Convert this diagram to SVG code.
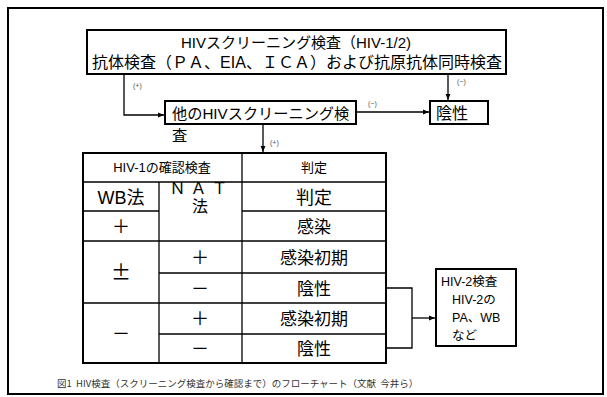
<svg xmlns="http://www.w3.org/2000/svg" width="607" height="397" viewBox="0 0 607 397">
<defs>
<marker id="ah" viewBox="0 0 10 10" refX="10" refY="5" markerWidth="6" markerHeight="6" orient="auto" markerUnits="userSpaceOnUse">
<path d="M0,1 L10,5 L0,9 z" fill="#000"/>
</marker>
<style>
text{font-family:"Liberation Sans","Noto Sans CJK JP",sans-serif;fill:#000}
.box{fill:#fff;stroke:#000;stroke-width:2}
.ln{fill:none;stroke:#000;stroke-width:1.3}
.con{fill:none;stroke:#000;stroke-width:1.3}
.sm{font-size:7px;fill:#555}
.c{text-anchor:middle}
.pm{font-family:"Noto Sans CJK JP",sans-serif;font-size:20px}
.cap{font-family:"Noto Sans CJK JP",serif;font-size:9.5px;fill:#333;white-space:pre}
</style>
</defs>
<rect x="0" y="0" width="607" height="397" fill="#fff"/>
<rect id="frame" x="8" y="8" width="595" height="386" fill="none" stroke="#000" stroke-width="2"/>

<g id="connectors">
<polyline class="con" points="124,74 124,115 164,115" marker-end="url(#ah)"/>
<line class="con" x1="448" y1="74" x2="448" y2="100" marker-end="url(#ah)"/>
<line class="con" x1="356" y1="112" x2="429" y2="112" marker-end="url(#ah)"/>
<line class="con" x1="263" y1="125" x2="263" y2="152" marker-end="url(#ah)"/>
<polyline class="con" points="386,288 412,288 412,348 386,348"/>
<line class="con" x1="412" y1="318" x2="435" y2="318" marker-end="url(#ah)"/>
<text class="sm" x="133" y="88">(+)</text>
<text class="sm" x="457" y="84">(−)</text>
<text class="sm" x="368" y="106">(−)</text>
<text class="sm" x="270" y="145">(+)</text>
</g>

<g id="screening">
<rect class="box" x="87" y="30" width="419" height="44"/>
<text class="c" x="296" y="48" font-size="15">HIVスクリーニング検査（HIV-1/2)</text>
<text class="c" x="297" y="68" font-size="16">抗体検査（ＰＡ、EIA、ＩＣＡ）および抗原抗体同時検査</text>
</g>

<g id="other">
<rect class="box" x="165" y="101" width="191" height="23"/>
<text x="172" y="119" font-size="15.2">他のHIVスクリーニング検</text>
<text x="172" y="141" font-size="15.2">査</text>
</g>

<g id="negative">
<rect class="box" x="430" y="101" width="58" height="23"/>
<text x="436" y="119" font-size="16">陰性</text>
</g>

<g id="table">
<rect x="83" y="153" width="303" height="210" fill="#fff" stroke="#000" stroke-width="2"/>
<line class="ln" x1="242" y1="153" x2="242" y2="363"/>
<line class="ln" x1="159" y1="182" x2="159" y2="363"/>
<line class="ln" x1="83" y1="182" x2="386" y2="182"/>
<line class="ln" x1="83" y1="211" x2="159" y2="211"/>
<line class="ln" x1="242" y1="211" x2="386" y2="211"/>
<line class="ln" x1="83" y1="241" x2="386" y2="241"/>
<line class="ln" x1="159" y1="273" x2="386" y2="273"/>
<line class="ln" x1="83" y1="303" x2="386" y2="303"/>
<line class="ln" x1="159" y1="334" x2="386" y2="334"/>
<text class="c" x="162" y="172" font-size="13">HIV-1の確認検査</text>
<text class="c" x="314" y="172" font-size="13">判定</text>
<text class="c" x="121" y="204" font-size="18">WB法</text>
<text class="c" x="201" y="194" font-size="16" letter-spacing="5">ＮＡＴ</text>
<text class="c" x="200" y="212" font-size="16">法</text>
<text class="c" x="314" y="204" font-size="18">判定</text>
<text class="c" x="121" y="233" font-size="18">＋</text>
<text class="c" x="314" y="233" font-size="17">感染</text>
<text class="c pm" x="121" y="280">±</text>
<text class="c" x="200" y="264" font-size="18">＋</text>
<text class="c" x="314" y="264" font-size="17">感染初期</text>
<text class="c" x="200" y="295" font-size="18">－</text>
<text class="c" x="314" y="295" font-size="17">陰性</text>
<text class="c" x="121" y="340" font-size="18">－</text>
<text class="c" x="200" y="325" font-size="18">＋</text>
<text class="c" x="314" y="325" font-size="17">感染初期</text>
<text class="c" x="200" y="355" font-size="18">－</text>
<text class="c" x="314" y="355" font-size="17">陰性</text>
</g>

<g id="hiv2">
<rect class="box" x="436" y="269" width="80" height="77"/>
<text x="441" y="286" font-size="12.5">HIV-2検査</text>
<text x="452" y="304" font-size="12.5">HIV-2の</text>
<text x="452" y="322" font-size="12.5">PA、WB</text>
<text x="452" y="340" font-size="12.5">など</text>
</g>

<text class="cap" x="57" y="387">図1  HIV検査（スクリーニング検査から確認まで）のフローチャート（文献  今井ら）</text>
</svg>
